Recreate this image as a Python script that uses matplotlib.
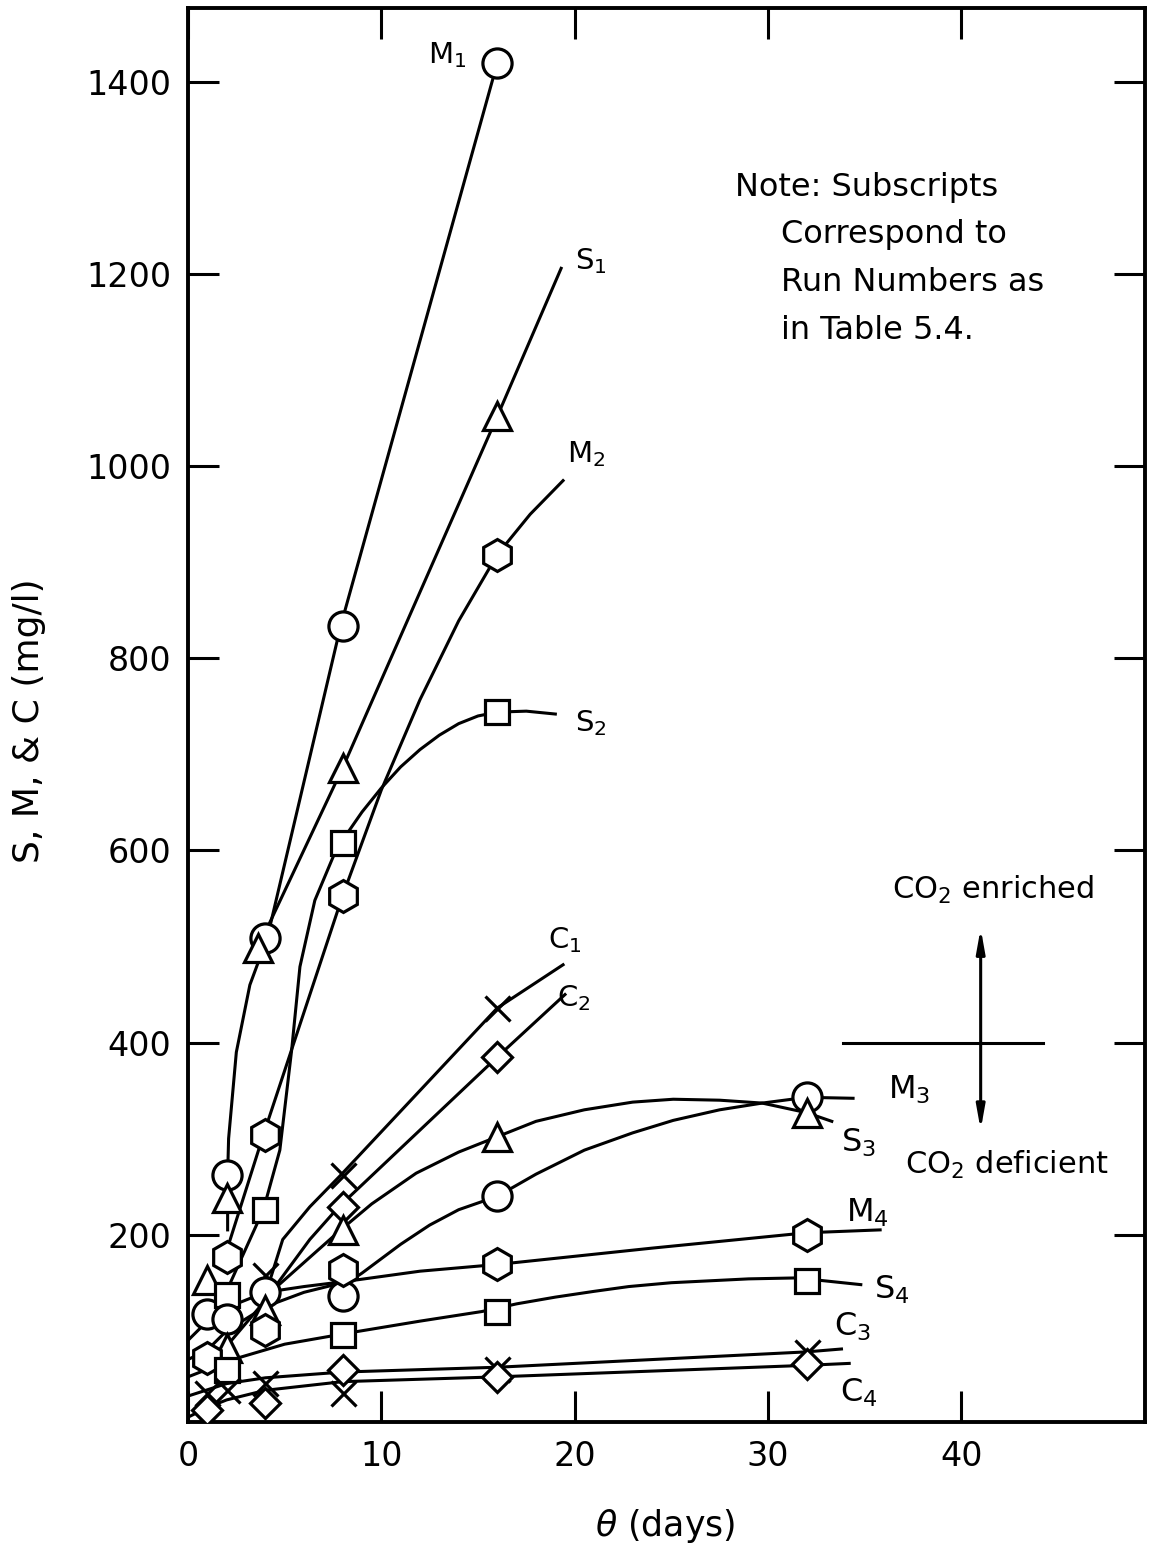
import matplotlib.pyplot as plt

m1_x = [1, 2, 4, 8, 16]
m1_y = [117, 262, 509, 834, 1420]
s1_x = [1, 2, 3.6, 8, 16]
s1_y = [153, 238, 498, 686, 1052]
m2_x = [2, 4, 8, 16]
m2_y = [177, 304, 553, 908]
s2_x = [2, 4, 8, 16]
s2_y = [137, 226, 608, 744]
c1_x = [4, 8, 16]
c1_y = [158, 262, 436]
c2_x = [8, 16]
c2_y = [229, 385]
m3_x = [2, 4, 8, 16, 32]
m3_y = [112, 140, 136, 240, 343]
s3_x = [2, 4, 8, 16, 32]
s3_y = [82, 122, 205, 302, 327]
m4_x = [1, 4, 8, 16, 32]
m4_y = [72, 101, 163, 169, 200]
s4_x = [2, 8, 16, 32]
s4_y = [59, 96, 120, 152]
c3_x = [1, 2, 4, 8, 16, 32]
c3_y = [35, 38, 46, 35, 60, 78]
c4_x = [1, 4, 8, 16, 32]
c4_y = [18, 25, 59, 52, 65]

# hand drawn curves
m1_cx = [2.05, 2.1, 2.5, 3.2, 4.1, 7.9, 16]
m1_cy = [262, 300, 390, 460, 509, 834, 1420]
s1_cx = [2.05, 2.05, float('nan'), 3.6, 8, 16, 19.3]
s1_cy = [205, 238, float('nan'), 498, 686, 1052, 1206]
m2_cx = [1.9, 3.9, 8, 10, 12, 14, 16, 17.7, 19.4]
m2_cy = [177, 304, 553, 663, 757, 839, 908, 950, 985]
s2_cx = [1.9, 3.9, 4.75, 5.36, 5.79, 6.56, 7.5, 7.9, 9, 10, 11, 12, 13, 14, 15, 16, 17.5, 19.0]
s2_cy = [137, 226, 288, 392, 479, 548, 593, 608, 640, 665, 687, 705, 720, 732, 740, 744, 745, 742]
c1_cx = [4.2, 4.9, 6.3, 7.9, 16, 19.4]
c1_cy = [150, 195, 229, 262, 436, 481]
c2_cx = [4.4, 6.3, 7.8, 16, 19.5]
c2_cy = [143, 195, 229, 385, 450]
m3_cx = [0, 1, 2, 4, 6, 8.4, 9, 10, 11, 12.5, 14, 16, 18, 20.5, 23, 25.1, 27.5, 29.7, 32, 34.4]
m3_cy = [90, 110, 124, 140, 146, 152, 160, 175, 190, 210, 226, 240, 263, 288, 306, 319, 330, 337, 343, 342]
s3_cx = [1, 2, 4.6, 7.9, 9.5, 11.8, 14, 16, 18, 20.5, 23, 25.1, 27.5, 29.7, 32, 33.3]
s3_cy = [60, 84, 146, 205, 232, 264, 286, 302, 318, 330, 338, 341, 340, 337, 327, 318]
m4_cx = [0, 1, 2, 4, 6, 8.4, 12, 16, 24, 32, 35.8]
m4_cy = [70, 80, 100, 125, 140, 152, 162, 169, 186, 202, 205]
s4_cx = [0, 2.3, 5, 8.4, 12, 15.2, 17, 19, 21, 22.8, 25, 27, 29, 31.5, 34.8]
s4_cy = [52, 70, 86, 98, 110, 120, 128, 135, 141, 146, 150, 152, 154, 155, 148]
c3_cx = [0, 2, 4, 8, 16, 24, 32, 33.8]
c3_cy = [32, 45, 51, 57, 62, 70, 78, 81]
c4_cx = [0, 1, 2, 4, 8, 16, 24, 32, 34.2]
c4_cy = [10, 20, 28, 38, 47, 52, 58, 64, 66]

# curve labels: text, x, y
top_labels = [('M$_1$', 12.4, 1428), ('S$_1$', 20.0, 1214), ('M$_2$', 19.6, 1013),
              ('S$_2$', 20.0, 733), ('C$_1$', 18.6, 507), ('C$_2$', 19.1, 446)]
low_labels = [('M$_3$', 36.2, 351), ('S$_3$', 33.8, 296), ('M$_4$', 34.05, 223),
              ('S$_4$', 35.5, 143), ('C$_3$', 33.4, 104), ('C$_4$', 33.7, 35)]

note_lines = ['Note: Subscripts', 'Correspond to', 'Run Numbers as', 'in Table 5.4.']

co2_x = 41.0
co2_level = 400
co2_arrow_y = [309, 519]
co2_bar_x = [33.9, 44.2]

series = [
    (m1_cx, m1_cy, m1_x, m1_y, 'o', 21),
    (s1_cx, s1_cy, s1_x, s1_y, '^', 20),
    (m2_cx, m2_cy, m2_x, m2_y, 'h', 23),
    (s2_cx, s2_cy, s2_x, s2_y, 's', 17),
    (c1_cx, c1_cy, c1_x, c1_y, 'x', 18),
    (c2_cx, c2_cy, c2_x, c2_y, 'D', 15),
    (m3_cx, m3_cy, m3_x, m3_y, 'o', 21),
    (s3_cx, s3_cy, s3_x, s3_y, '^', 20),
    (m4_cx, m4_cy, m4_x, m4_y, 'h', 23),
    (s4_cx, s4_cy, s4_x, s4_y, 's', 17),
    (c3_cx, c3_cy, c3_x, c3_y, 'x', 18),
    (c4_cx, c4_cy, c4_x, c4_y, 'D', 15),
]

fig = plt.figure(figsize=(11.49, 15.45), dpi=100)
ax = fig.add_axes([188 / 1149, 123 / 1545, 957 / 1149, 1414 / 1545])

for cx, cy, mx, my, mk, ms in series:
    ax.plot(cx, cy, '-', color='black', lw=2.2, zorder=2)
    ax.plot(mx, my, linestyle='none', marker=mk, ms=ms, mfc='white', mec='black',
            mew=2.3, zorder=3)

for txt, x, y in top_labels:
    ax.text(x, y, txt, fontsize=21, va='center', ha='left')
for txt, x, y in low_labels:
    ax.text(x, y, txt, fontsize=23, va='center', ha='left')

# note text
ax.text(0.572, 0.873, note_lines[0], transform=ax.transAxes, fontsize=23, va='center')
for i, line in enumerate(note_lines[1:]):
    ax.text(0.620, 0.840 - 0.034 * i, line, transform=ax.transAxes, fontsize=23, va='center')

# CO2 enriched / deficient marker
ax.plot(co2_bar_x, [co2_level, co2_level], color='black', lw=2.2)
ax.annotate('', xy=(co2_x, co2_arrow_y[1]), xytext=(co2_x, co2_arrow_y[0]),
            arrowprops=dict(arrowstyle='<|-|>,head_length=1.4,head_width=0.25',
                            color='black', lw=2.2, shrinkA=0, shrinkB=0))
ax.text(36.4, 559, 'CO$_2$ enriched', fontsize=22, va='center', ha='left')
ax.text(37.1, 273, 'CO$_2$ deficient', fontsize=22, va='center', ha='left')

ax.set_xlim(0, 49.5)
ax.set_ylim(5, 1477)
ax.set_xticks([0, 10, 20, 30, 40])
ax.set_yticks([200, 400, 600, 800, 1000, 1200, 1400])
ax.tick_params(direction='in', length=22, width=2.2, labelsize=24,
               top=True, right=True)
ax.tick_params(axis='x', pad=13)
ax.tick_params(axis='y', pad=12)
for sp in ax.spines.values():
    sp.set_linewidth(2.8)

ax.set_xlabel(r'$\theta$ (days)', fontsize=25)
ax.xaxis.set_label_coords(0.499, -0.06)
ax.set_ylabel('S, M, & C (mg/l)', fontsize=26)
ax.yaxis.set_label_coords(-0.148, 0.496)

fig.savefig('out.png', dpi=100)
